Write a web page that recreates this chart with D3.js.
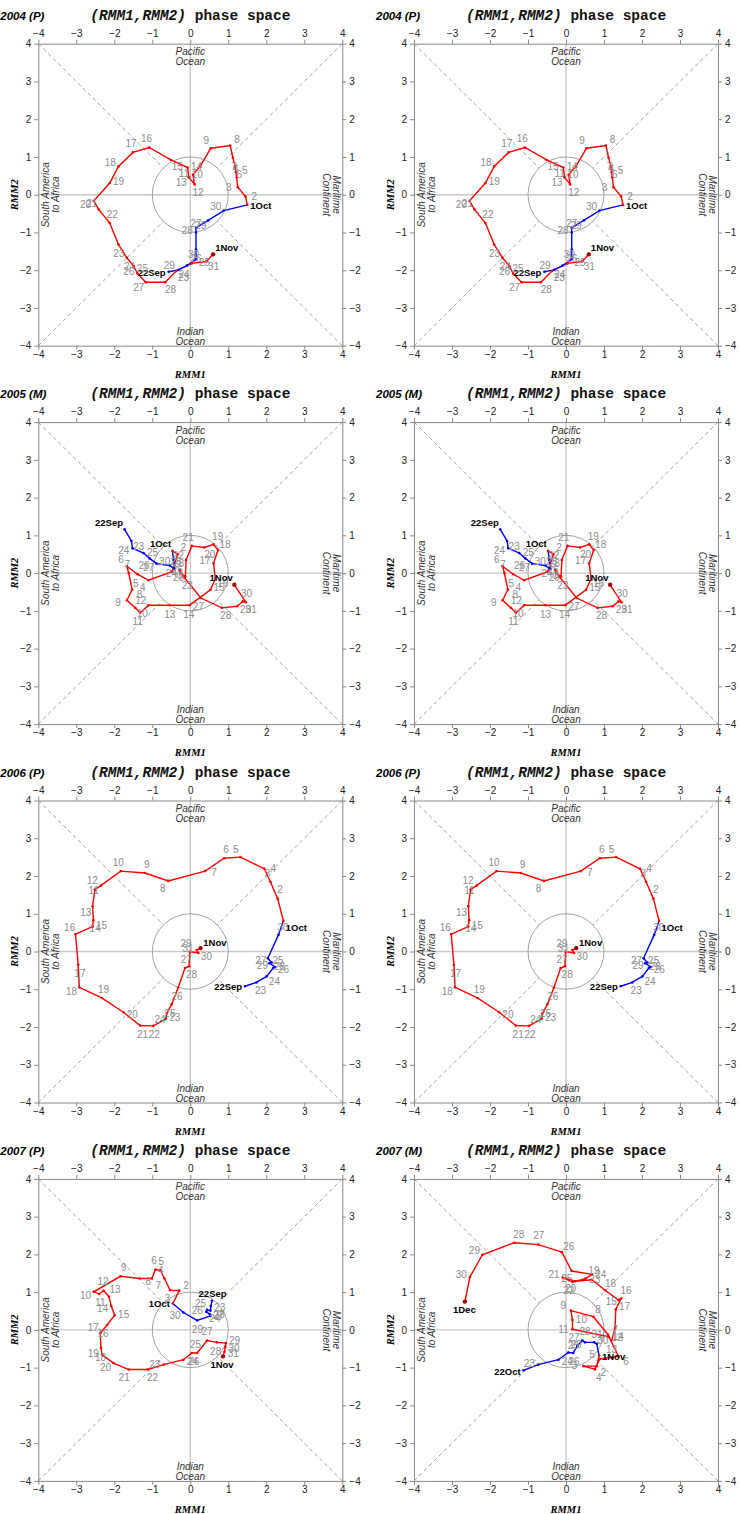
<!DOCTYPE html>
<html><head><meta charset="utf-8">
<script src="https://cdn.jsdelivr.net/npm/d3@7"></script>
<style>body{margin:0;background:#fff}svg{display:block}</style>
</head><body><svg id="c" width="739" height="1514"></svg>
<script>
// ---------- data ----------
const ticks = [-4, -3, -2, -1, 0, 1, 2, 3, 4];
const titles = ["2004 (P)", "2004 (P)", "2005 (M)", "2005 (M)", "2006 (P)", "2006 (P)", "2007 (P)", "2007 (M)"];
const startDates = ["2004-09-22", "2004-09-22", "2005-09-22", "2005-09-22", "2006-09-22", "2006-09-22", "2007-09-22", "2007-10-22"];

// 2004: 22 Sep -> 1 Nov
const rmm1_2004 = [-0.57,-0.31,-0.09,0.15,0.15,0.15,0.15,0.47,0.88,
  1.50,1.45,1.25,1.22,1.20,1.18,1.12,1.05,0.54,0.26,0.07,0.11,-0.04,-0.07,-0.51,-1.08,-1.51,-1.89,-2.12,-2.54,-2.41,-2.12,-1.89,-1.67,-1.49,-1.39,-1.17,-0.66,-0.37,0.04,0.42,
  0.60];
const rmm2_2004 = [-2.04,-1.99,-1.88,-1.71,-1.45,-1.00,-0.88,-0.68,-0.42,
  -0.27,-0.04,0.20,0.45,0.60,0.75,0.98,1.30,1.23,0.75,0.53,0.28,0.46,0.72,0.92,1.25,1.12,0.75,0.31,-0.16,-0.39,-0.75,-1.32,-1.67,-1.89,-2.09,-2.32,-2.32,-2.02,-1.82,-1.77,
  -1.58];

// 2005: 22 Sep -> 1 Nov
const rmm1_2005 = [-1.73,-1.55,-1.52,-1.23,-1.07,-0.89,-0.54,-0.41,-0.44,
  -0.47,-0.33,-0.48,-1.10,-1.39,-1.67,-1.62,-1.53,-1.67,-1.45,-1.32,-1.10,-0.54,-0.02,0.53,0.66,0.61,0.73,0.61,0.37,0.04,-0.11,-0.13,-0.26,-0.28,-0.18,0.28,0.83,1.23,1.38,1.46,
  1.16];
const rmm2_2005 = [1.16,0.85,0.66,0.53,0.39,0.25,0.20,0.11,0.35,
  0.59,0.50,0.04,-0.19,-0.03,0.18,0.00,-0.44,-0.72,-0.92,-1.05,-0.85,-0.85,-0.85,-0.44,-0.15,0.26,0.61,0.76,0.68,0.72,0.35,-0.09,0.00,0.09,-0.09,-0.66,-0.92,-0.88,-0.75,-0.77,
  -0.31];

// 2006: 22 Sep -> 1 Nov
const rmm1_2006 = [1.44,1.74,2.01,2.18,2.23,2.08,2.14,2.04,2.32,
  2.45,2.30,2.11,1.95,1.32,0.89,0.39,-0.58,-1.19,-1.83,-2.35,-2.51,-2.57,-2.55,-2.57,-3.02,-2.95,-2.92,-2.33,-1.76,-1.32,-0.97,-0.64,-0.62,-0.49,-0.32,-0.14,-0.03,-0.01,0.21,0.17,
  0.27];
const rmm2_2006 = [-0.92,-0.82,-0.66,-0.44,-0.41,-0.31,-0.29,-0.18,0.44,
  0.81,1.40,1.84,2.19,2.50,2.47,2.13,1.87,2.08,2.13,1.75,1.64,1.20,0.83,0.66,0.46,-0.35,-0.95,-1.23,-1.61,-1.96,-1.97,-1.78,-1.64,-1.40,-0.96,-0.44,-0.39,0.00,-0.04,0.04,
  0.09];

// 2007 (P): 22 Sep -> 1 Nov
const rmm1_2007p = [0.57,0.54,0.53,0.44,0.42,0.51,0.53,0.18,-0.18,
  -0.46,-0.29,-0.53,-0.68,-0.79,-0.92,-1.01,-1.33,-1.84,-2.54,-2.40,-2.28,-2.14,-2.08,-1.99,-2.19,-2.37,-2.35,-2.32,-2.02,-1.62,-1.12,-0.70,-0.18,0.04,0.18,0.44,0.70,0.94,0.92,0.90,
  0.86];
const rmm2_2007p = [0.77,0.63,0.51,0.53,0.48,0.42,0.37,0.25,0.46,
  0.70,1.04,1.05,1.36,1.58,1.60,1.36,1.36,1.42,1.01,0.95,1.04,0.88,0.63,0.39,0.13,-0.09,-0.48,-0.66,-0.88,-1.05,-1.05,-0.92,-0.79,-0.61,-0.61,-0.28,-0.33,-0.35,-0.45,-0.58,
  -0.70];

// 2007 (M): 22 Oct -> 1 Dec
const rmm1_2007m = [-1.12,-0.73,-0.20,0.06,0.19,0.30,0.43,0.50,0.74,0.81,
  0.87,0.81,0.46,0.76,0.89,1.38,1.11,0.72,0.13,0.17,0.17,1.11,1.20,1.29,1.31,1.45,1.38,1.03,0.68,0.25,-0.09,0.17,0.52,0.68,0.15,-0.11,-0.73,-1.36,-2.20,-2.53,
  -2.66];
const rmm2_2007m = [-1.07,-0.92,-0.79,-0.60,-0.61,-0.42,-0.28,-0.33,-0.33,-0.37,
  -0.68,-0.96,-0.96,-1.04,-0.77,-0.70,-0.13,0.35,0.51,0.26,0.02,-0.18,-0.28,0.04,0.54,0.83,0.79,1.05,1.33,1.29,1.39,1.27,1.36,1.47,1.56,2.06,2.26,2.31,1.99,1.40,
  0.75];

const series = [
  [rmm1_2004, rmm2_2004], [rmm1_2004, rmm2_2004],
  [rmm1_2005, rmm2_2005], [rmm1_2005, rmm2_2005],
  [rmm1_2006, rmm2_2006], [rmm1_2006, rmm2_2006],
  [rmm1_2007p, rmm2_2007p], [rmm1_2007m, rmm2_2007m]
];

// ---------- drawing ----------
const svg = d3.select("#c");
const SANS = "'Liberation Sans', Arial, Helvetica, sans-serif";
const parse = d3.timeParse("%Y-%m-%d");
const fmtMon = d3.timeFormat("%-d%b"), fmtDay = d3.timeFormat("%-d");

series.forEach((s, idx) => {
  const col = idx % 2, row = Math.floor(idx / 2);
  const x0 = col ? 414 : 38.3, y0 = 43.7 + row * 378.4;
  const W = 304, H = 302;
  const x = d3.scaleLinear().domain([-4, 4]).range([x0, x0 + W]);
  const y = d3.scaleLinear().domain([-4, 4]).range([y0 + H, y0]);
  const g = svg.append("g");

  // titles
  g.append("text").attr("x", x0 - 38).attr("y", y0 - 24)
    .attr("font-family", SANS).attr("font-weight", "bold").attr("font-style", "italic")
    .attr("font-size", 11.5).attr("fill", "#000").text(titles[idx]);
  const t = g.append("text").attr("x", x0 + 52).attr("y", y0 - 24)
    .attr("font-family", "'Liberation Mono', 'Courier New', monospace").attr("font-weight", "bold")
    .attr("font-size", 14.5).attr("fill", "#111");
  t.append("tspan").attr("font-style", "italic").text("(RMM1,RMM2)");
  t.append("tspan").text(" phase space");

  // zero lines
  g.append("line").attr("x1", x(0)).attr("x2", x(0)).attr("y1", y(-4)).attr("y2", y(4))
    .attr("stroke", "#c8c8c8").attr("stroke-width", 1.4);
  g.append("line").attr("x1", x(-4)).attr("x2", x(4)).attr("y1", y(0)).attr("y2", y(0))
    .attr("stroke", "#c8c8c8").attr("stroke-width", 1.4);

  // diagonals (corner to unit circle)
  const r = Math.SQRT1_2;
  [[1, 1], [1, -1], [-1, 1], [-1, -1]].forEach(([a, b]) => {
    g.append("line").attr("x1", x(4 * a)).attr("y1", y(4 * b)).attr("x2", x(r * a)).attr("y2", y(r * b))
      .attr("stroke", "#8a8a8a").attr("stroke-width", 0.8).attr("stroke-dasharray", "4,3");
  });
  // circle
  g.append("ellipse").attr("cx", x(0)).attr("cy", y(0))
    .attr("rx", x(1) - x(0)).attr("ry", y(0) - y(1))
    .attr("fill", "none").attr("stroke", "#8a8a8a").attr("stroke-width", 0.8);

  // axes
  const fmt = d3.format("d");
  const mk = (axis, tr, pad) => {
    const a = g.append("g").attr("transform", tr)
      .call(axis.tickValues(ticks).tickFormat(fmt).tickSize(4).tickSizeOuter(0).tickPadding(pad));
    a.selectAll("path").attr("stroke", "#888");
    a.selectAll("line").attr("stroke", "#888");
    a.selectAll("text").attr("font-family", SANS).attr("font-size", 10).attr("fill", "#222");
  };
  mk(d3.axisTop(x), `translate(0,${y0})`, 3);
  mk(d3.axisBottom(x), `translate(0,${y0 + H})`, 1);
  mk(d3.axisLeft(y), `translate(${x0},0)`, 3);
  mk(d3.axisRight(y), `translate(${x0 + W},0)`, 3);

  // axis titles
  g.append("text").attr("x", x(0)).attr("y", y0 + H + 32).attr("text-anchor", "middle")
    .attr("font-family", "'Liberation Serif', 'Times New Roman', serif").attr("font-weight", "bold")
    .attr("font-style", "italic").attr("font-size", 10.5).text("RMM1");
  g.append("text").attr("transform", `translate(${x0 - 20},${y(0)}) rotate(-90)`).attr("text-anchor", "middle")
    .attr("font-family", "'Liberation Serif', 'Times New Roman', serif").attr("font-weight", "bold")
    .attr("font-style", "italic").attr("font-size", 10.5).text("RMM2");

  // region labels
  const reg = (tx, ty, rot, lines) => {
    const tt = g.append("text").attr("transform", `translate(${tx},${ty}) rotate(${rot})`)
      .attr("text-anchor", "middle").attr("font-family", SANS).attr("font-style", "italic")
      .attr("font-size", 10).attr("fill", "#333");
    lines.forEach((l, i) => tt.append("tspan").attr("x", 0).attr("dy", i ? "1.0em" : 0).text(l));
  };
  reg(x(0), y0 + 11.5, 0, ["Pacific", "Ocean"]);
  reg(x(0), y0 + H - 11, 0, ["Indian", "Ocean"]);
  reg(x0 + 11, y(0), -90, ["South America", "to Africa"]);
  reg(x0 + W - 9, y(0), 90, ["Maritime", "Continent"]);

  // trajectory
  const [r1, r2] = s;
  const start = parse(startDates[idx]);
  const dates = r1.map((_, i) => d3.timeDay.offset(start, i));
  const pts = r1.map((v, i) => ({ px: x(v), py: y(r2[i]), date: dates[i], i }));
  const k = pts.findIndex((p, i) => i > 0 && p.date.getDate() === 1);
  const line = d3.line().x(d => d.px).y(d => d.py);
  const blue = pts.slice(0, k + 1), red = pts.slice(k);
  g.append("path").attr("d", line(red)).attr("fill", "none").attr("stroke", "#ff0000").attr("stroke-width", 1.4);
  g.append("path").attr("d", line(blue)).attr("fill", "none").attr("stroke", "#0000ff").attr("stroke-width", 1.4);
  g.selectAll(null).data(pts).join("circle")
    .attr("cx", d => d.px).attr("cy", d => d.py).attr("r", 1.3)
    .attr("fill", d => d.i < k ? "#0000ff" : "#ff0000");
  const last = pts[pts.length - 1];
  g.append("circle").attr("cx", last.px).attr("cy", last.py).attr("r", 2.2).attr("fill", "#a00000");

  // labels
  const n = pts.length;
  pts.forEach((p, i) => {
    let vx, vy;
    if (i === 0) { vx = p.px - pts[1].px; vy = p.py - pts[1].py; }
    else if (i === n - 1) { vx = p.px - pts[n - 2].px; vy = p.py - pts[n - 2].py; }
    else {
      vx = p.px - (pts[i - 1].px + pts[i + 1].px) / 2;
      vy = p.py - (pts[i - 1].py + pts[i + 1].py) / 2;
      if (Math.hypot(vx, vy) < 0.8) {
        const dx = pts[i + 1].px - pts[i - 1].px, dy = pts[i + 1].py - pts[i - 1].py;
        vx = -dy; vy = dx;
        if (vx * (p.px - x(0)) + vy * (p.py - y(0)) < 0) { vx = -vx; vy = -vy; }
      }
    }
    const L = Math.hypot(vx, vy) || 1;
    const ux = vx / L, uy = vy / L;
    const major = i === 0 || i === n - 1 || p.date.getDate() === 1;
    if (major) {
      const anchor = ux > 0.4 ? "start" : ux < -0.4 ? "end" : "middle";
      const dy = uy > 0.4 ? "0.9em" : uy < -0.4 ? "-0.1em" : "0.35em";
      g.append("text").attr("x", p.px + ux * 3).attr("y", p.py + uy * 3).attr("dy", dy)
        .attr("text-anchor", anchor).attr("font-family", SANS).attr("font-weight", "bold")
        .attr("font-size", 9.5).attr("fill", "#000").text(fmtMon(p.date));
    } else {
      g.append("text").attr("x", p.px + ux * 9).attr("y", p.py + uy * 9).attr("dy", "0.35em")
        .attr("text-anchor", "middle").attr("font-family", SANS)
        .attr("font-size", 10).attr("fill", "#8c8c8c").text(fmtDay(p.date));
    }
  });
});
</script>
</body></html>
